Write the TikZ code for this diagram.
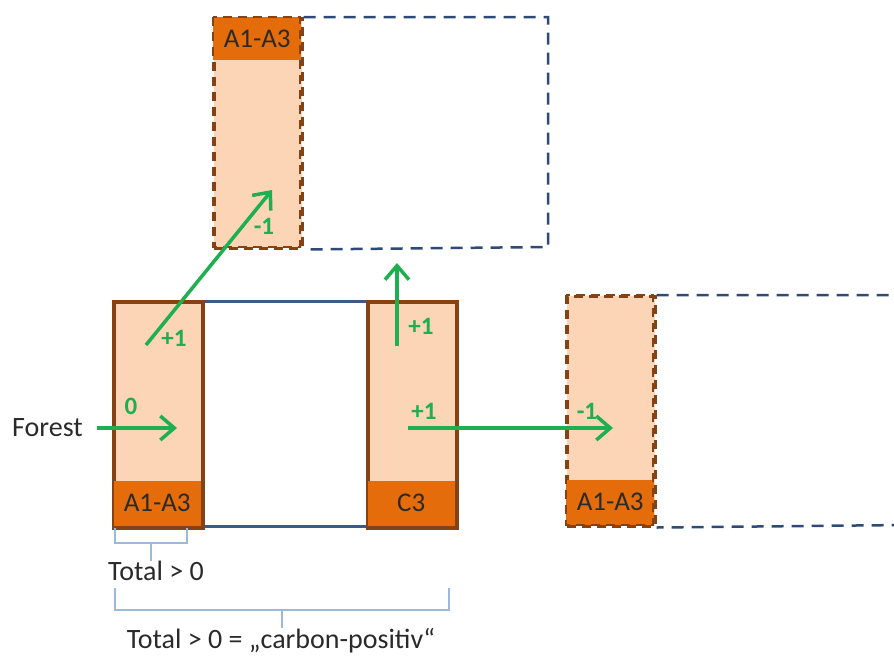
\documentclass[tikz,border=0pt]{standalone}
\usepackage{fontspec}
\setmainfont{Carlito}
\usetikzlibrary{arrows.meta}
\definecolor{peach}{HTML}{FBD5B5}
\definecolor{dorange}{HTML}{E46C0A}
\definecolor{brownb}{HTML}{864213}
\definecolor{bluebox}{HTML}{3D5A86}
\definecolor{dashblue}{HTML}{2F4A75}
\definecolor{gr}{HTML}{1DAF50}
\definecolor{brk}{HTML}{9DB9D9}
\definecolor{txt}{HTML}{2A2A2A}
\begin{document}
\begin{tikzpicture}[x=1pt,y=-1pt,
  colbox/.style={fill=peach, draw=brownb, line width=2.5pt, minimum width=88pt, inner sep=0pt},
  dcolbox/.style={fill=peach, draw=brownb, line width=2.5pt, dash pattern=on 9pt off 6pt, minimum width=88pt, inner sep=0pt},
  band/.style={fill=dorange, draw=none, minimum width=88pt, minimum height=45pt, inner sep=0pt, text=txt, font=\fontsize{27}{32}\selectfont},
  dbox/.style={draw=dashblue, line width=2.5pt, dash pattern=on 12pt off 8pt},
  garrow/.style={draw=gr, line width=3.5pt, -{Straight Barb[length=14pt,width=24pt]}},
  glabel/.style={text=gr, font=\bfseries\fontsize{25}{30}\selectfont, inner sep=0pt},
  brack/.style={draw=brk, line width=1.5pt},
  ptext/.style={text=txt, font=\fontsize{28}{33}\selectfont, inner sep=0pt}
]
\useasboundingbox (0,0) rectangle (894,657);

% ---- top dashed box ----
\node[dcolbox, minimum height=230pt, anchor=north west] (Tcol) at (213,17) {};
\node[band, minimum height=43pt, anchor=north west] (Tband) at (213,17) {A1-A3};
\draw[dbox] (Tcol.north east) -- (548,17) -- (548,247) -- (Tcol.south east);
\draw[dcolbox, fill=none] (213,17) rectangle (300,247);

% ---- right dashed box (cut by the page edge) ----
\begin{scope}
\clip (0,0) rectangle (894,657);
\node[dcolbox, minimum height=230pt, anchor=north west] (Rcol) at (566,295) {};
\node[band, minimum height=45pt, anchor=south west] (Rband) at (566,525) {A1-A3};
\draw[dbox] (Rcol.north east) -- (905,295) -- (905,525) -- (Rcol.south east);
\draw[dcolbox, fill=none] (566,295) rectangle (653,525);
\end{scope}

% ---- main box ----
\draw[bluebox, line width=3pt] (113,301) rectangle (455,526);
\node[colbox, minimum height=225pt, anchor=north west] (Lcol) at (113,301) {};
\node[band, anchor=south west] (Lband) at (113,526) {A1-A3};
\node[colbox, minimum height=225pt, anchor=north west] (Ccol) at (367,301) {};
\node[band, anchor=south west] (Cband) at (367,526) {C3};
\draw[brownb, line width=2.5pt] (Lcol.north west) rectangle (Lcol.south east);
\draw[brownb, line width=2.5pt] (Ccol.north west) rectangle (Ccol.south east);

% ---- arrows ----
\node[ptext, anchor=east] (forest) at (83,428) {Forest};
\coordinate (f0) at (97,428);
\coordinate (f1) at (177,428);
\draw[garrow] (f0) -- (f1);

\coordinate (d0) at (146,345);
\coordinate (d1) at (272,190);
\draw[garrow] (d0) -- (d1);

\coordinate (v0) at (397,346);
\coordinate (v1) at (397,263);
\draw[garrow] (v0) -- (v1);

\coordinate (h0) at (408,428);
\coordinate (h1) at (613,428);
\draw[garrow] (h0) -- (h1);

\node[glabel] (l0) at (131,406) {0};
\node[glabel] (lp1) at (174,338) {+1};
\node[glabel] (lm1) at (264,226) {-1};
\node[glabel] (lp2) at (421,326) {+1};
\node[glabel] (lp3) at (424,411) {+1};
\node[glabel] (lm2) at (587,411) {-1};

% ---- brackets ----
\coordinate (b1a) at (115,528);
\coordinate (b1b) at (187,528);
\coordinate (b1m) at (151,543);
\draw[brack] (b1a) |- (b1b |- b1m) -- (b1b);
\node[ptext] (tot1) at (156,571) {Total > 0};
\draw[brack] (b1m) -- (tot1.north -| b1m);

\coordinate (b2a) at (115,588);
\coordinate (b2b) at (449,588);
\coordinate (b2m) at (282,610);
\draw[brack] (b2a) |- (b2b |- b2m) -- (b2b);
\node[ptext] (tot2) at (281,641) {Total > 0 = „carbon-positiv“};
\draw[brack] (b2m) -- (tot2.north -| b2m);
\end{tikzpicture}
\end{document}
